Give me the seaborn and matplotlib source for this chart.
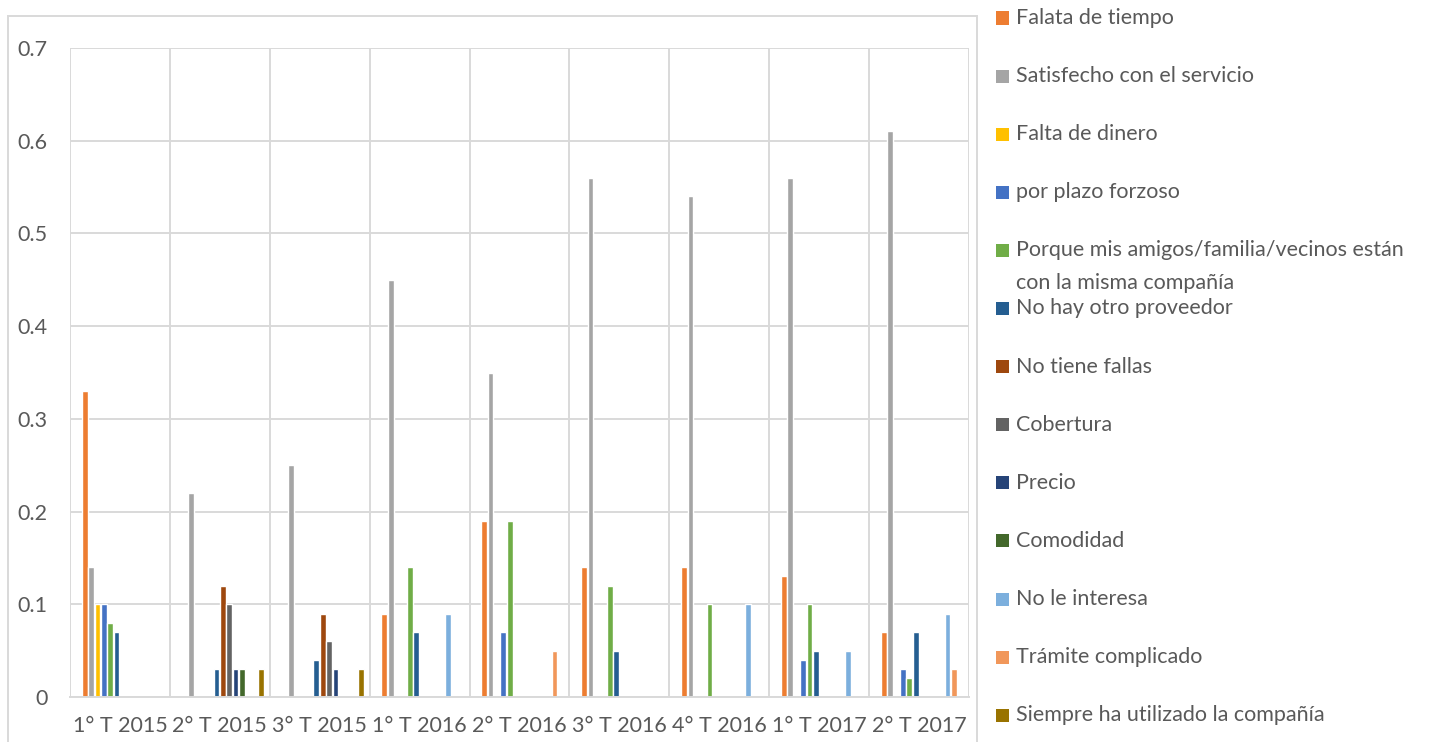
import numpy as np
import pandas as pd
import seaborn as sns
import matplotlib
matplotlib.use("Agg")
import matplotlib.pyplot as plt
from matplotlib.patches import Rectangle
from matplotlib.ticker import FixedLocator
from matplotlib.transforms import ScaledTranslation

# Survey periods (quarters)
periods = ["1° T 2015", "2° T 2015", "3° T 2015", "1° T 2016", "2° T 2016",
           "3° T 2016", "4° T 2016", "1° T 2017", "2° T 2017"]

# Reasons given, in legend order
reasons = [
    "Falata de tiempo",
    "Satisfecho con el servicio",
    "Falta de dinero",
    "por plazo forzoso",
    "Porque mis amigos/familia/vecinos están\ncon la misma compañía",
    "No hay otro proveedor",
    "No tiene fallas",
    "Cobertura",
    "Precio",
    "Comodidad",
    "No le interesa",
    "Trámite complicado",
    "Siempre ha utilizado la compañía",
]

# Share of respondents per reason and period (0 = not reported)
falta_tiempo      = [0.33, 0.00, 0.00, 0.09, 0.19, 0.14, 0.14, 0.13, 0.07]
satisfecho        = [0.14, 0.22, 0.25, 0.45, 0.35, 0.56, 0.54, 0.56, 0.61]
falta_dinero      = [0.10, 0.00, 0.00, 0.00, 0.00, 0.00, 0.00, 0.00, 0.00]
plazo_forzoso     = [0.10, 0.00, 0.00, 0.00, 0.07, 0.00, 0.00, 0.04, 0.03]
amigos_familia    = [0.08, 0.00, 0.00, 0.14, 0.19, 0.12, 0.10, 0.10, 0.02]
no_otro_proveedor = [0.07, 0.03, 0.04, 0.07, 0.00, 0.05, 0.00, 0.05, 0.07]
no_tiene_fallas   = [0.00, 0.12, 0.09, 0.00, 0.00, 0.00, 0.00, 0.00, 0.00]
cobertura         = [0.00, 0.10, 0.06, 0.00, 0.00, 0.00, 0.00, 0.00, 0.00]
precio            = [0.00, 0.03, 0.03, 0.00, 0.00, 0.00, 0.00, 0.00, 0.00]
comodidad         = [0.00, 0.03, 0.00, 0.00, 0.00, 0.00, 0.00, 0.00, 0.00]
no_le_interesa    = [0.00, 0.00, 0.00, 0.09, 0.00, 0.00, 0.10, 0.05, 0.09]
tramite           = [0.00, 0.00, 0.00, 0.00, 0.05, 0.00, 0.00, 0.00, 0.03]
siempre           = [0.00, 0.03, 0.03, 0.00, 0.00, 0.00, 0.00, 0.00, 0.00]

series = [falta_tiempo, satisfecho, falta_dinero, plazo_forzoso, amigos_familia,
          no_otro_proveedor, no_tiene_fallas, cobertura, precio, comodidad,
          no_le_interesa, tramite, siempre]

colors = ["#ED7D31", "#A5A5A5", "#FFC000", "#4472C4", "#70AD47", "#255E91",
          "#9E480E", "#636363", "#264478", "#43682B", "#7CAFDD", "#F1975A",
          "#997300"]

y_ticks = [0.0, 0.1, 0.2, 0.3, 0.4, 0.5, 0.6, 0.7]

# Long-format table, skipping empty combinations
rows = []
for reason, vals in zip(reasons, series):
    for period, v in zip(periods, vals):
        if v > 0:
            rows.append({"periodo": period, "motivo": reason, "valor": v})
df = pd.DataFrame(rows)

sns.set_theme(style="white")
plt.rcParams["font.family"] = ["Lato", "DejaVu Sans"]
text_color = "#595959"
grid_color = "#D9D9D9"

W, H = 1434, 742
fig = plt.figure(figsize=(W / 100, H / 100), dpi=100)
ax = fig.add_axes([70 / W, 1 - 697 / H, (969 - 70) / W, (697 - 48) / H])

sns.barplot(data=df, x="periodo", y="valor", hue="motivo",
            order=periods, hue_order=reasons, palette=colors,
            width=0.83, gap=0.1, dodge=True, legend=False, ax=ax,
            saturation=1, errorbar=None)

# Bar clusters sit slightly right of the period centre
shift = ax.transData + ScaledTranslation(3 / 100, 0, fig.dpi_scale_trans)
for bar in ax.patches:
    bar.set_transform(shift)

ax.set_xlim(-0.5, len(periods) - 0.5)
ax.set_ylim(0, 0.7)
ax.set_xlabel("")
ax.set_ylabel("")

# Horizontal gridlines
ax.yaxis.set_major_locator(FixedLocator(y_ticks))
ax.set_yticklabels([f"{v:g}" for v in y_ticks])
ax.grid(axis="y", color=grid_color, linewidth=1.4)

# Vertical separators between periods
ax.xaxis.set_minor_locator(FixedLocator(np.arange(-0.5, len(periods), 1.0)))
ax.grid(axis="x", which="minor", color=grid_color, linewidth=1.4)
ax.set_axisbelow(True)

for side in ["top", "right", "left"]:
    ax.spines[side].set_visible(False)
ax.spines["bottom"].set_color(grid_color)
ax.spines["bottom"].set_linewidth(1.4)

ax.tick_params(axis="x", which="major", length=0, pad=14, labelsize=15.5,
               labelcolor=text_color)
ax.tick_params(axis="x", which="minor", length=7, width=1.4, color=grid_color,
               direction="out")
ax.tick_params(axis="y", length=0, pad=16, labelsize=15.5, labelcolor=text_color)

# Outer chart frame
fig.add_artist(Rectangle((8 / W, -0.05), (977 - 8) / W, 1 - 16 / H + 0.05,
                         transform=fig.transFigure, fill=False,
                         edgecolor=grid_color, linewidth=1.4))

# Legend on the right
x_mark, x_text = 996, 1016
y0, dy, line_h = 18, 58.1, 33
for i, (label, col) in enumerate(zip(reasons, colors)):
    yc = y0 + dy * i
    fig.add_artist(Rectangle((x_mark / W, 1 - (yc + 6.5) / H), 13 / W, 13 / H,
                             transform=fig.transFigure, facecolor=col,
                             edgecolor="none"))
    for j, line in enumerate(label.split("\n")):
        fig.text(x_text / W, 1 - (yc + j * line_h) / H, line,
                 ha="left", va="center", fontsize=15.5, color=text_color)

fig.savefig("out.png", dpi=100)
